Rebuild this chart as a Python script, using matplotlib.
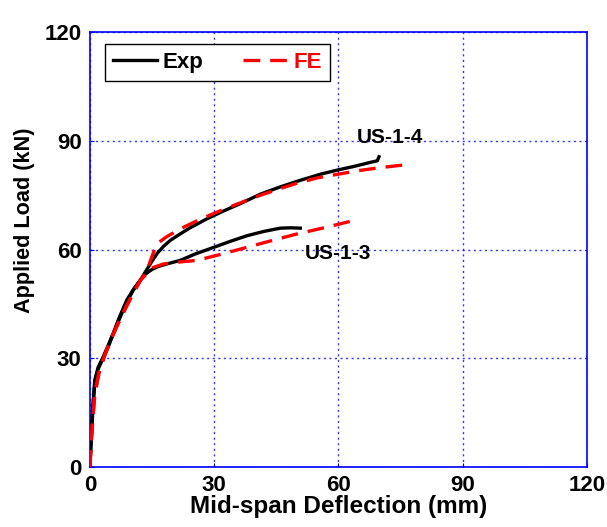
"""
Load-deflection curves, US-1-3 and US-1-4, experiment vs FE.
"""

import matplotlib as mpl
import matplotlib.pyplot as plt
import numpy as np

# US-1-4 experiment
exp4_x = [0, 0.2, 0.4, 0.8, 1.2, 2.0, 3.2, 4.4, 5.6, 7.2, 8.9, 10.5, 12.1, 13.5,
          15.0, 16.3, 17.8, 19.5, 21.8, 24.2, 28.3, 32.0, 36.0, 41.2, 46.0, 50.5,
          55.7, 60.0, 64.0, 67.5, 69.4, 69.8]
exp4_y = [0, 5.0, 10.0, 18.0, 24.0, 27.5, 30.3, 33.5, 36.8, 41.5, 46.0, 49.0, 51.4, 54.0,
          56.8, 59.0, 60.9, 62.6, 64.3, 66.0, 68.5, 70.5, 72.5, 75.3, 77.3, 79.0,
          80.8, 82.0, 83.0, 84.0, 84.5, 85.6]
# US-1-3 experiment
exp3_x = [0, 0.2, 0.4, 0.8, 1.2, 2.0, 3.2, 4.4, 5.6, 7.2, 8.9, 10.5, 12.1, 13.5,
          15.0, 16.5, 18.5, 21.8, 25.5, 29.9, 34.0, 37.9, 42.0, 46.0, 48.5, 50.8]
exp3_y = [0, 4.0, 9.0, 17.0, 23.5, 27.0, 30.0, 33.0, 36.5, 41.0, 45.5, 48.8, 51.4, 53.3,
          54.5, 55.3, 56.0, 57.0, 58.8, 60.6, 62.3, 63.8, 65.0, 65.9, 66.0, 65.9]
# FE predictions
fe4_x = [0, 0.3, 0.7, 1.2, 2.2, 3.5, 5.0, 6.8, 8.7, 10.5, 12.2, 13.7, 16.1, 18.5,
         22.0, 26.0, 30.0, 35.0, 40.0, 45.0, 50.0, 55.0, 60.0, 65.0, 70.0, 75.5]
fe4_y = [0, 6.0, 13.0, 20.0, 26.0, 30.5, 35.0, 39.5, 44.0, 48.0, 51.5, 54.0, 61.5, 63.5,
         65.8, 68.0, 70.0, 72.3, 74.5, 76.5, 78.3, 79.8, 80.8, 81.8, 82.6, 83.3]
fe3_x = [0, 0.3, 0.7, 1.2, 2.2, 3.5, 5.0, 6.8, 8.7, 10.5, 12.2, 13.7, 15.2, 17.7,
         21.0, 25.8, 31.0, 37.9, 44.0, 50.0, 56.5, 63.3]
fe3_y = [0, 6.0, 13.0, 20.0, 26.0, 30.5, 35.0, 39.5, 44.0, 48.0, 51.5, 53.3, 55.0, 56.0,
         56.5, 57.0, 58.5, 60.6, 62.5, 64.3, 66.0, 67.9]

labels = ["US-1-4", "US-1-3"]
label_pos = [(72.5, 91.0), (60.0, 59.0)]


def main():
    mpl.rcParams["font.family"] = ["Liberation Sans", "DejaVu Sans"]
    mpl.rcParams["font.weight"] = "bold"

    fig = plt.figure(figsize=(6.07, 5.27), dpi=100)
    ax = fig.add_axes([0.148, 0.114, 0.819, 0.825])

    exp_line, = ax.plot(exp4_x, exp4_y, color="k", lw=2.4, zorder=3)
    ax.plot(exp3_x, exp3_y, color="k", lw=2.4, zorder=3)
    fe_line, = ax.plot(fe4_x, fe4_y, color="red", lw=2.4, ls=(0, (5, 3)), zorder=4)
    ax.plot(fe3_x, fe3_y, color="red", lw=2.4, ls=(0, (5, 3)), zorder=4)

    for txt, (x, y) in zip(labels, label_pos):
        ax.text(x, y, txt, fontsize=15, fontweight="bold", ha="center", va="center")

    ax.set_xlim(0, 120)
    ax.set_ylim(0, 120)
    ax.set_xticks(np.arange(0, 121, 30))
    ax.set_yticks(np.arange(0, 121, 30))
    ax.tick_params(labelsize=16, direction="in", length=3, color="blue", pad=6)
    for lab in ax.get_xticklabels() + ax.get_yticklabels():
        lab.set_fontweight("bold")
    for sp in ax.spines.values():
        sp.set_color("blue")
        sp.set_linewidth(1.2)
    ax.grid(True, color="blue", ls=(0, (1.5, 2.5)), lw=1.0, alpha=0.8)

    ax.set_xlabel("Mid-span Deflection (mm)", fontsize=17.5, fontweight="bold", labelpad=-1)
    ax.set_ylabel("Applied Load (kN)", fontsize=15.6, fontweight="bold")
    ax.yaxis.set_label_coords(-0.111, 0.568)

    leg = ax.legend([exp_line, fe_line], ["Exp", "FE"], ncol=2, loc="upper left",
                    bbox_to_anchor=(0.03, 0.972), borderaxespad=0, fancybox=False,
                    framealpha=1, edgecolor="k", prop={"size": 16, "weight": "bold"},
                    handlelength=2.0, handletextpad=0.25, columnspacing=1.8,
                    borderpad=0.35)
    leg.get_frame().set_linewidth(1.0)
    leg.get_texts()[1].set_color("red")

    fig.savefig("out.png", dpi=100)


if __name__ == '__main__':
    main()
